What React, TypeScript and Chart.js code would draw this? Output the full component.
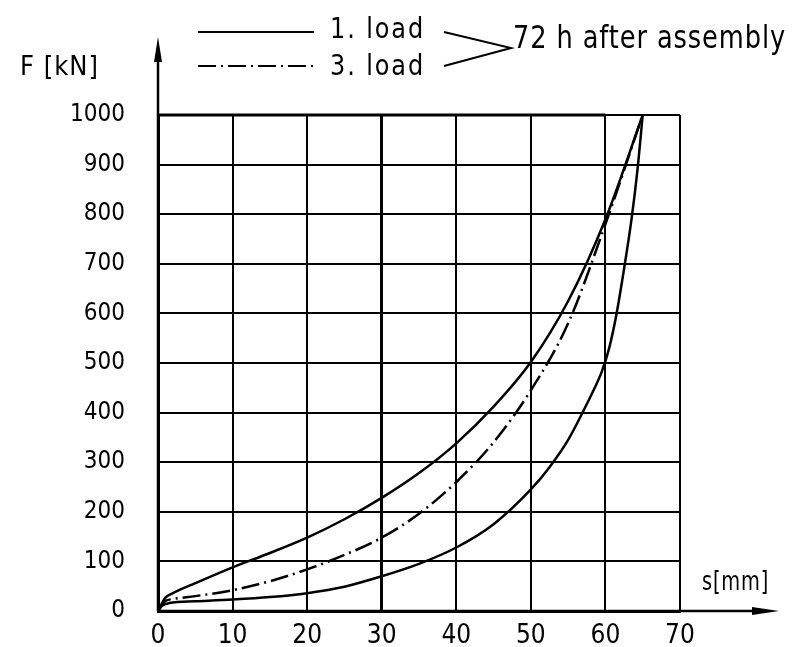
import React, { useEffect, useRef } from "react";
import { Chart, registerables } from "chart.js";

Chart.register(...registerables);

// ---- data ----
const sTicks = [0, 10, 20, 30, 40, 50, 60, 70];
const fTicks = [0, 100, 200, 300, 400, 500, 600, 700, 800, 900, 1000];

// 1. load – upper branch (solid)
const load1UpperS = [0, 1, 2, 5, 10, 15, 20, 25, 30, 35, 40, 45, 50, 55, 60, 65];
const load1UpperF = [0, 27, 36, 56, 88, 117, 148, 185, 228, 278, 338, 412, 502, 625, 790, 1000];

// 1. load – lower branch (solid)
const load1LowerS = [0, 0.5, 1.5, 5, 10, 15, 20, 25, 30, 35, 40, 45, 50, 52.5, 55, 57, 58.5, 59.5, 60.5, 61.5, 62.5, 63.5, 64.3, 65];
const load1LowerF = [0, 10, 16, 19.5, 23, 28, 36, 49, 70, 95, 128, 175, 245, 290, 345, 402, 448, 482, 530, 600, 690, 790, 890, 1000];

// 3. load (dash-dot)
const load3S = [0, 1, 2, 5, 10, 15, 20, 25, 30, 35, 40, 45, 50, 55, 60, 65];
const load3F = [0, 20, 24, 30, 42, 60, 84, 113, 148, 196, 260, 340, 445, 580, 780, 1000];

const legendLabels = ["1. load", "3. load"];
const noteLabel = "72 h after assembly";
const yTitle = "F [kN]";
const xTitle = "s[mm]";

const FONT = '"DejaVu Sans Condensed", "DejaVu Sans", sans-serif';

const toPoints = (xs: number[], ys: number[]) => xs.map((x, i) => ({ x, y: ys[i] }));

const decorPlugin = {
  id: "decor",
  afterDraw(chart: any) {
    const ctx = chart.ctx as CanvasRenderingContext2D;
    const xs = chart.scales.x;
    const ys = chart.scales.y;
    const x0 = xs.getPixelForValue(0);
    const y0 = ys.getPixelForValue(0);
    ctx.save();
    ctx.strokeStyle = "#000";
    ctx.fillStyle = "#000";

    // thicker top border segment 0..60
    ctx.lineWidth = 3;
    ctx.beginPath();
    ctx.moveTo(xs.getPixelForValue(0), ys.getPixelForValue(1000));
    ctx.lineTo(xs.getPixelForValue(60), ys.getPixelForValue(1000));
    ctx.stroke();

    // axis extensions with arrows
    ctx.lineWidth = 2.5;
    ctx.beginPath();
    ctx.moveTo(x0, y0);
    ctx.lineTo(x0, 55);
    ctx.moveTo(x0, y0);
    ctx.lineTo(760, y0);
    ctx.stroke();
    ctx.beginPath();
    ctx.moveTo(x0, 37);
    ctx.lineTo(x0 - 4, 62);
    ctx.lineTo(x0 + 4, 62);
    ctx.closePath();
    ctx.fill();
    ctx.beginPath();
    ctx.moveTo(779, y0);
    ctx.lineTo(752, y0 - 4);
    ctx.lineTo(752, y0 + 4);
    ctx.closePath();
    ctx.fill();

    // legend lines
    ctx.lineWidth = 2;
    ctx.beginPath();
    ctx.moveTo(198, 32);
    ctx.lineTo(314, 32);
    ctx.stroke();
    ctx.setLineDash([18, 5, 2, 5]);
    ctx.beginPath();
    ctx.moveTo(198, 66);
    ctx.lineTo(314, 66);
    ctx.stroke();
    ctx.setLineDash([]);

    // brace ">"
    ctx.lineWidth = 2;
    ctx.beginPath();
    ctx.moveTo(444, 32);
    ctx.lineTo(511, 48);
    ctx.lineTo(444, 66);
    ctx.stroke();

    // texts
    ctx.textBaseline = "alphabetic";
    ctx.textAlign = "left";
    (ctx as any).letterSpacing = "2px";
    ctx.font = `28px ${FONT}`;
    ctx.fillText(legendLabels[0], 330, 38, 95);
    ctx.fillText(legendLabels[1], 330, 75, 95);
    (ctx as any).letterSpacing = "1px";
    ctx.font = `32px ${FONT}`;
    ctx.fillText(noteLabel, 513, 48, 273);
    ctx.font = `27px ${FONT}`;
    ctx.fillText(yTitle, 20, 75, 82);
    ctx.fillText(xTitle, 702, 590, 67);
    ctx.restore();
  },
};

export default function App() {
  const ref = useRef<HTMLCanvasElement | null>(null);
  useEffect(() => {
    if (!ref.current) return;
    const chart = new Chart(ref.current, {
      type: "scatter",
      data: {
        datasets: [
          {
            label: legendLabels[0],
            data: toPoints(load1UpperS, load1UpperF),
            showLine: true,
            borderColor: "#000",
            borderWidth: 2.5,
            pointRadius: 0,
            cubicInterpolationMode: "monotone",
          },
          {
            label: legendLabels[0] + " (unloading)",
            data: toPoints(load1LowerS, load1LowerF),
            showLine: true,
            borderColor: "#000",
            borderWidth: 2.5,
            pointRadius: 0,
            cubicInterpolationMode: "monotone",
          },
          {
            label: legendLabels[1],
            data: toPoints(load3S, load3F),
            showLine: true,
            borderColor: "#000",
            borderWidth: 2.5,
            borderDash: [18, 5, 2, 5],
            pointRadius: 0,
            cubicInterpolationMode: "monotone",
          },
        ] as any,
      },
      options: {
        animation: false,
        responsive: false,
        maintainAspectRatio: false,
        devicePixelRatio: 1,
        layout: { padding: { top: 115, right: 121, left: 0, bottom: 0 } },
        plugins: { legend: { display: false }, tooltip: { enabled: false } },
        scales: {
          x: {
            type: "linear",
            min: 0,
            max: 70,
            afterBuildTicks: (s: any) => {
              s.ticks = sTicks.map((v) => ({ value: v }));
            },
            afterFit: (s: any) => {
              s.height = 36;
              s.paddingLeft = 0;
              s.paddingRight = 0;
            },
            ticks: {
              color: "#000",
              padding: 10,
              font: { family: FONT, size: 26 },
              maxRotation: 0,
              callback: (v: any) => String(v),
            },
            grid: {
              color: "#000",
              lineWidth: (c: any) => (c.tick && c.tick.value === 30 ? 3 : 2),
              drawTicks: false,
            },
            border: { display: true, color: "#000", width: 3 },
          },
          y: {
            type: "linear",
            min: 0,
            max: 1000,
            afterBuildTicks: (s: any) => {
              s.ticks = fTicks.map((v) => ({ value: v }));
            },
            afterFit: (s: any) => {
              s.width = 158;
              s.paddingTop = 0;
              s.paddingBottom = 0;
            },
            ticks: {
              color: "#000",
              padding: 33,
              font: { family: FONT, size: 24 },
              callback: (v: any) => String(v),
            },
            grid: { color: "#000", lineWidth: 2, drawTicks: false },
            border: { display: true, color: "#000", width: 3 },
          },
        },
      } as any,
      plugins: [decorPlugin],
    });
    return () => chart.destroy();
  }, []);

  return (
    <div style={{ position: "fixed", left: 0, top: 0, width: 801, height: 647, background: "#fff" }}>
      <canvas ref={ref} width={801} height={647} style={{ display: "block", width: 801, height: 647 }} />
    </div>
  );
}
